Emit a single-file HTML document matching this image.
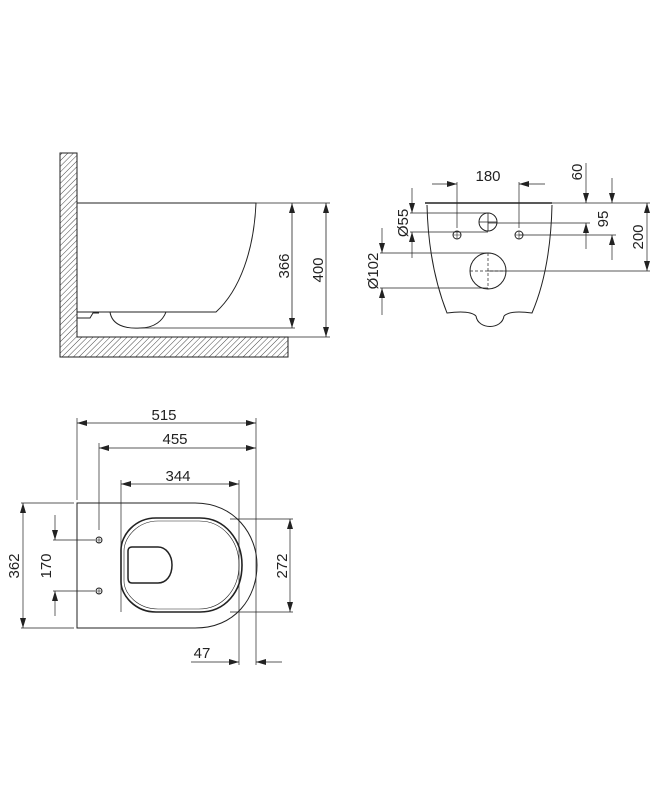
<!DOCTYPE html>
<html><head><meta charset="utf-8"><style>
html,body{margin:0;padding:0;background:#fff}
svg{display:block}
text{font-family:"Liberation Sans",sans-serif;font-size:15px;fill:#222}
</style></head><body>
<svg width="668" height="789" viewBox="0 0 668 789" xmlns="http://www.w3.org/2000/svg">
<defs>
<pattern id="h" width="4" height="4" patternUnits="userSpaceOnUse" patternTransform="rotate(45)">
<line x1="0" y1="0" x2="0" y2="4" stroke="#333" stroke-width="0.9"/></pattern>
<marker id="a" viewBox="0 0 10 6" refX="10" refY="3" markerWidth="10" markerHeight="6" markerUnits="userSpaceOnUse" orient="auto-start-reverse">
<path d="M0,0 L10,3 L0,6 Z" fill="#222"/></marker>
</defs>
<g stroke="#222" stroke-width="1" fill="none">
<!-- SIDE VIEW -->
<path d="M60,153 H77 V337 H288 V357 H60 Z" fill="url(#h)"/>
<path d="M77,203 H256 C254,250 240,290 216,312 H77"/>
<path d="M77,318 H90 L93,313 H99"/>
<path d="M110,312 C112,325 125,329 140,328 C155,328 163,320 166,312"/>
<line x1="140" y1="328" x2="295" y2="328" stroke-width="0.8"/>
<line x1="256" y1="203" x2="330" y2="203" stroke-width="0.7"/>
<line x1="288" y1="337" x2="330" y2="337" stroke-width="0.7"/>
<line x1="292" y1="203" x2="292" y2="328" marker-start="url(#a)" marker-end="url(#a)" stroke-width="0.8"/>
<line x1="326" y1="203" x2="326" y2="337" marker-start="url(#a)" marker-end="url(#a)" stroke-width="0.8"/>

<!-- FRONT VIEW -->
<line x1="425" y1="203" x2="552" y2="203" stroke-width="1.5"/>
<path d="M427,205 C428,250 436,285 447,313 Q470,310 476,316 M552,205 C551,250 544,285 532,313 Q510,310 504,316"/>
<path d="M476,316 C478,330 502,330 504,316" />
<circle cx="488" cy="222" r="9"/>
<circle cx="457" cy="235" r="4"/><circle cx="519" cy="235" r="4"/>
<path d="M453,235h8M457,231v8M515,235h8M519,231v8" stroke-width="0.6"/>
<path d="M479,222h18M488,213v18" stroke-width="0.8"/>
<circle cx="488" cy="271" r="18"/>
<path d="M470,271h36M488,253v36" stroke-dasharray="3,2" stroke-width="0.7"/>
<g stroke-width="0.7">
<line x1="552" y1="203" x2="650" y2="203"/>
<line x1="457" y1="182" x2="457" y2="228"/><line x1="519" y1="182" x2="519" y2="228"/>
<line x1="432" y1="184" x2="457" y2="184" marker-end="url(#a)"/>
<line x1="545" y1="184" x2="519" y2="184" marker-end="url(#a)"/>
<line x1="410" y1="213" x2="488" y2="213"/><line x1="410" y1="232" x2="488" y2="232"/>
<line x1="412" y1="188" x2="412" y2="213" marker-end="url(#a)"/>
<line x1="412" y1="258" x2="412" y2="232" marker-end="url(#a)"/>
<line x1="380" y1="253" x2="488" y2="253"/><line x1="380" y1="288" x2="488" y2="288"/>
<line x1="382" y1="228" x2="382" y2="253" marker-end="url(#a)"/>
<line x1="382" y1="315" x2="382" y2="288" marker-end="url(#a)"/>
<line x1="488" y1="223" x2="590" y2="223"/>
<line x1="519" y1="235" x2="616" y2="235"/>
<line x1="488" y1="271" x2="650" y2="271"/>
<line x1="586" y1="163" x2="586" y2="203" marker-end="url(#a)"/>
<line x1="586" y1="249" x2="586" y2="223" marker-end="url(#a)"/>
<line x1="612" y1="178" x2="612" y2="203" marker-end="url(#a)"/>
<line x1="612" y1="260" x2="612" y2="235" marker-end="url(#a)"/>
<line x1="647" y1="203" x2="647" y2="271" marker-start="url(#a)" marker-end="url(#a)"/>
</g>

<!-- TOP VIEW -->
<path d="M77,503 H195 C235,503 257,535 257,565 C257,598 235,628 195,628 H77 Z"/>
<path d="M156,518 H200 C225,518 242,540 242,565 C242,592 225,612 200,612 H156 C135,612 121,595 121,582 V550 C121,535 135,518 156,518 Z" stroke-width="1.6"/>
<path d="M158,521 H199 C222,521 239,540 239,565 C239,590 222,609 199,609 H158 C138,609 124,594 124,581 V551 C124,537 138,521 158,521 Z" stroke-width="0.6"/>
<path d="M132,547 H158 C166,547 172,555 172,565 C172,576 166,583 158,583 H132 C129,583 128,581 128,578 V551 C128,549 129,547 132,547 Z" stroke-width="1.5"/>
<circle cx="99" cy="540" r="3"/><circle cx="99" cy="591" r="3"/>
<path d="M96,540h6M99,537v6M96,591h6M99,588v6" stroke-width="0.6"/>
<g stroke-width="0.7">
<line x1="77" y1="418" x2="77" y2="500"/>
<line x1="99" y1="443" x2="99" y2="530"/>
<line x1="121" y1="480" x2="121" y2="612"/>
<line x1="239" y1="480" x2="239" y2="665"/>
<line x1="256" y1="418" x2="256" y2="665"/>
<line x1="77" y1="423" x2="256" y2="423" marker-start="url(#a)" marker-end="url(#a)"/>
<line x1="99" y1="448" x2="256" y2="448" marker-start="url(#a)" marker-end="url(#a)"/>
<line x1="121" y1="484" x2="239" y2="484" marker-start="url(#a)" marker-end="url(#a)"/>
<line x1="21" y1="503" x2="74" y2="503"/><line x1="21" y1="628" x2="74" y2="628"/>
<line x1="23" y1="503" x2="23" y2="628" marker-start="url(#a)" marker-end="url(#a)"/>
<line x1="53" y1="540" x2="95" y2="540"/><line x1="53" y1="591" x2="95" y2="591"/>
<line x1="55" y1="515" x2="55" y2="540" marker-end="url(#a)"/>
<line x1="55" y1="616" x2="55" y2="591" marker-end="url(#a)"/>
<line x1="230" y1="519" x2="293" y2="519"/><line x1="230" y1="612" x2="293" y2="612"/>
<line x1="290" y1="519" x2="290" y2="612" marker-start="url(#a)" marker-end="url(#a)"/>
<line x1="191" y1="662" x2="239" y2="662" marker-end="url(#a)"/>
<line x1="282" y1="662" x2="256" y2="662" marker-end="url(#a)"/>
</g>
</g>
<!-- TEXT -->
<text transform="translate(289,266) rotate(-90)" text-anchor="middle">366</text>
<text transform="translate(323,270) rotate(-90)" text-anchor="middle">400</text>
<text x="488" y="181" text-anchor="middle">180</text>
<text transform="translate(408,223) rotate(-90)" text-anchor="middle">Ø55</text>
<text transform="translate(378,271) rotate(-90)" text-anchor="middle">Ø102</text>
<text transform="translate(582,172) rotate(-90)" text-anchor="middle">60</text>
<text transform="translate(608,219) rotate(-90)" text-anchor="middle">95</text>
<text transform="translate(643,237) rotate(-90)" text-anchor="middle">200</text>
<text x="164" y="420" text-anchor="middle">515</text>
<text x="175" y="444" text-anchor="middle">455</text>
<text x="178" y="481" text-anchor="middle">344</text>
<text transform="translate(19,566) rotate(-90)" text-anchor="middle">362</text>
<text transform="translate(51,566) rotate(-90)" text-anchor="middle">170</text>
<text transform="translate(287,566) rotate(-90)" text-anchor="middle">272</text>
<text x="202" y="658" text-anchor="middle">47</text>
</svg>
</body></html>
